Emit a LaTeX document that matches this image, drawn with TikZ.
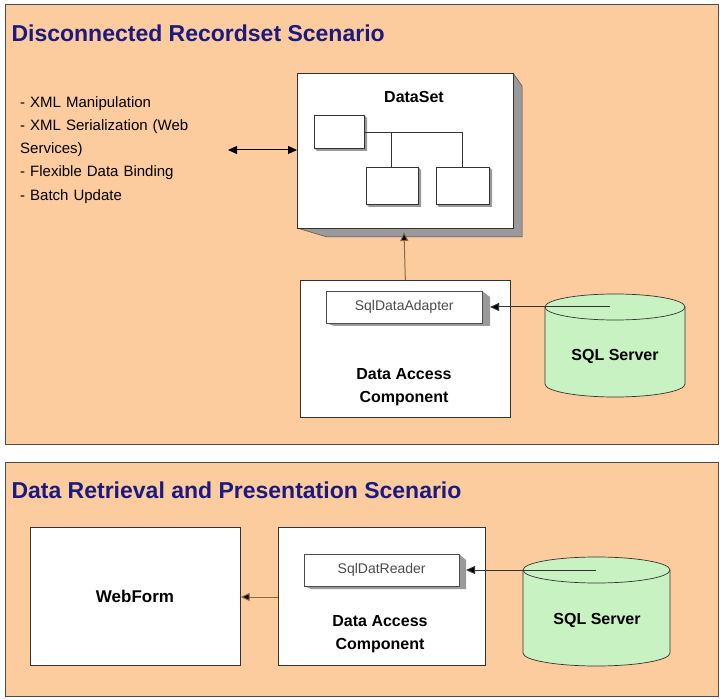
\documentclass[tikz,border=0pt]{standalone}
\usepackage{fontspec}
\setmainfont{Liberation Sans}
\usetikzlibrary{shapes.geometric,arrows.meta}
\definecolor{peach}{HTML}{FCCB9E}
\definecolor{navy}{HTML}{1A1A80}
\definecolor{sqlg}{HTML}{C8F2C2}
\definecolor{shd}{HTML}{9A9A9A}
\definecolor{brn}{HTML}{8A6A4A}
\begin{document}
\begin{tikzpicture}[x=1pt,y=-1pt,
  panel/.style={draw=black!70,fill=peach,line width=0.8pt},
  wbox/.style={draw=black!80,fill=white,line width=0.7pt},
  title/.style={anchor=west,text=navy,font=\bfseries\fontsize{23}{26}\selectfont},
  lbl/.style={font=\bfseries\fontsize{16}{23}\selectfont,align=center},
  small/.style={font=\fontsize{15}{23.3}\selectfont},
  conn/.style={draw=brn,line width=1pt,-{Triangle[length=9pt,width=8pt,fill=black]}}]
\useasboundingbox (0,0) rectangle (720,700);
\fill[white] (0,0) rectangle (720,700);
% panels
\draw[panel] (5,4) rectangle (718,444);
\draw[panel] (5,462) rectangle (718,696);
\node[title] (t1) at (8,33) {Disconnected Recordset Scenario};
\node[title] (t2) at (8,490) {Data Retrieval and Presentation Scenario};
% DataSet
\fill[shd] (513,73) -- (522,86) -- (522,237) -- (327,237) -- (297,228) -- (513,228) -- cycle;
\draw[black!70,line width=0.5pt] (513,73) -- (522,86) -- (522,237) -- (327,237) -- (297,228);
\node[wbox,minimum width=216pt,minimum height=155pt,anchor=north west,inner sep=0] (ds) at (297,73) {};
\node[font=\bfseries\fontsize{16}{18}\selectfont] (dst) at (414,97) {DataSet};
\foreach \n/\x/\y/\w/\h in {b1/314/115/50/33, b2/366/167/52/37, b3/436/167/53/37}{
  \fill[shd] (\x+\w,\y) -- (\x+\w+3,\y+3) -- (\x+\w+3,\y+\h+3) -- (\x+3,\y+\h+3) -- (\x,\y+\h) -- cycle;
  \node[wbox,minimum width=\w pt,minimum height=\h pt,anchor=north west,inner sep=0] (\n) at (\x,\y) {};
}
\coordinate (j1) at (391,132); \coordinate (j2) at (462,132);
\draw[black!80,line width=0.6pt] (b1.east |- j1) -- (j2) -- (j2 |- b3.north);
\draw[black!80,line width=0.6pt] (j1) -- (j1 |- b2.north);
% left text
\node[small,anchor=north west,align=left,text width=210pt,inner sep=0] (feat) at (20,96) {- XML Manipulation\\- XML Serialization (Web\\Services)\\- Flexible Data Binding\\- Batch Update};
\coordinate (fa) at (228,150);
\draw[black,line width=1pt,{Triangle[length=9pt,width=8pt]}-{Triangle[length=9pt,width=8pt]}] (fa) -- (ds.west |- fa);
% DAC top
\node[wbox,minimum width=210pt,minimum height=137pt,anchor=north west,inner sep=0] (dac1) at (300,280) {};
\fill[shd] (482,291) -- (490,297) -- (490,326) -- (334,326) -- (326,323) -- (482,323) -- cycle;
\node[draw=black!70,fill=white,minimum width=156pt,minimum height=32pt,anchor=north west,inner sep=0,text=black!70,font=\fontsize{14}{16}\selectfont] (sda) at (326,291) {SqlDataAdapter};
\node[lbl] (dac1t) at (404,387) {Data Access\\Component};
\draw[conn] (dac1.north) -- (404,232);
% cylinder 1
\path[draw=black!80,fill=sqlg,line width=0.7pt] (545,307) -- (545,384) arc[start angle=180,end angle=0,x radius=70,y radius=13] -- (685,307) arc[start angle=0,end angle=-180,x radius=70,y radius=13] -- cycle;
\draw[black!80,line width=0.7pt] (545,307) arc[start angle=180,end angle=0,x radius=70,y radius=13];
\node[lbl] (sql1t) at (615,356) {SQL Server};
\coordinate (s1) at (610,307);
\draw[conn,draw=black!80] (s1) -- (490,307);
% bottom
\node[wbox,minimum width=210pt,minimum height=138pt,anchor=north west,inner sep=0] (wf) at (30,527) {};
\node[font=\bfseries\fontsize{17}{19}\selectfont] (wft) at (135,596) {WebForm};
\node[wbox,minimum width=207pt,minimum height=138pt,anchor=north west,inner sep=0] (dac2) at (278,527) {};
\fill[shd] (459,554) -- (466,560) -- (466,589) -- (311,589) -- (304,586) -- (459,586) -- cycle;
\node[draw=black!70,fill=white,minimum width=155pt,minimum height=32pt,anchor=north west,inner sep=0,text=black!70,font=\fontsize{14}{16}\selectfont] (sdr) at (304,554) {SqlDatReader};
\node[lbl] (dac2t) at (380,634) {Data Access\\Component};
\draw[conn] (dac2.west |- 0,597) -- (wf.east |- 0,597);
% cylinder 2
\path[draw=black!80,fill=sqlg,line width=0.7pt] (523,570) -- (523,653) arc[start angle=180,end angle=0,x radius=73.5,y radius=13] -- (670,570) arc[start angle=0,end angle=-180,x radius=73.5,y radius=13] -- cycle;
\draw[black!80,line width=0.7pt] (523,570) arc[start angle=180,end angle=0,x radius=73.5,y radius=13];
\node[lbl] (sql2t) at (597,620) {SQL Server};
\coordinate (s2) at (596,570);
\draw[conn,draw=black!80] (s2) -- (466,570);
\end{tikzpicture}
\end{document}
